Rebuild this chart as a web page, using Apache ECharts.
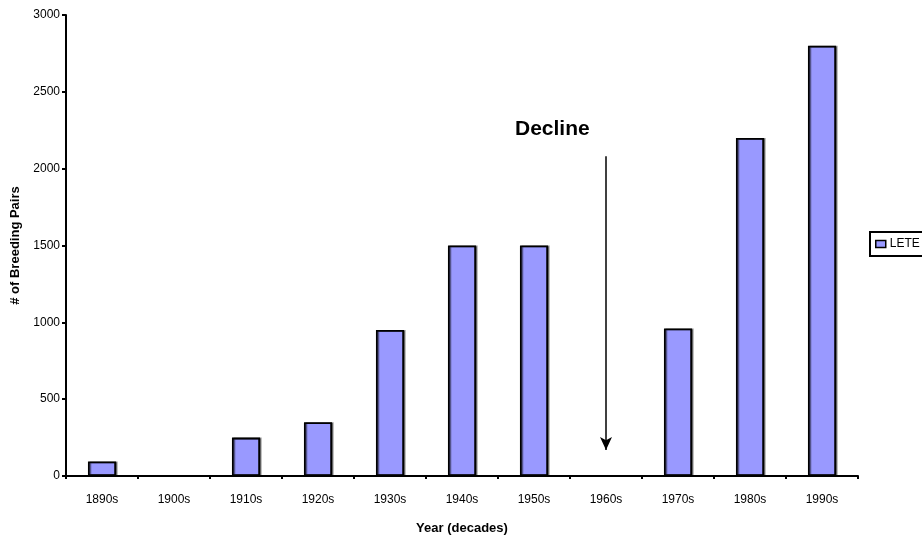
<!DOCTYPE html>
<html>
<head>
<meta charset="utf-8">
<script src="https://cdn.jsdelivr.net/npm/echarts@6/dist/echarts.min.js"></script>
<style>html,body{margin:0;padding:0;background:#fff;}#c{width:922px;height:540px;}</style>
</head>
<body>
<div id="c"></div>
<script>
const categories = ['1890s','1900s','1910s','1920s','1930s','1940s','1950s','1960s','1970s','1980s','1990s'];
const pairs = [95, 0, 250, 350, 950, 1500, 1500, 0, 960, 2200, 2800];
const yTicks = [0, 500, 1000, 1500, 2000, 2500, 3000];
const seriesName = 'LETE';
const annotationText = 'Decline';
const arrowCategory = '1960s';
const arrowFrom = 2080;
const arrowTo = 170;

const FONT = 'Arial, "Liberation Sans", sans-serif';
const chart = echarts.init(document.getElementById('c'), null, {renderer: 'canvas'});
chart.setOption({
  animation: false,
  backgroundColor: '#fff',
  grid: {left: 66, right: 64, top: 15, bottom: 58, containLabel: false},
  legend: {
    data: [seriesName],
    left: 870, top: 232,
    orient: 'vertical',
    padding: [6, 30, 6, 5],
    borderColor: '#000', borderWidth: 2,
    icon: 'rect', itemWidth: 10, itemHeight: 7, itemGap: 4,
    itemStyle: {color: '#9999FF', borderColor: '#000', borderWidth: 1.5},
    textStyle: {fontFamily: FONT, fontSize: 12, color: '#000', padding: [0,0,0,-1]}
  },
  xAxis: {
    type: 'category',
    data: categories,
    boundaryGap: true,
    name: 'Year (decades)',
    nameLocation: 'middle',
    nameGap: 46,
    nameTextStyle: {fontFamily: FONT, fontSize: 13, fontWeight: 'bold', color: '#000'},
    axisLine: {lineStyle: {color: '#000', width: 2}},
    axisTick: {show: true, length: 3, alignWithLabel: false, lineStyle: {color: '#000', width: 2}},
    axisLabel: {fontFamily: FONT, fontSize: 12, color: '#000', margin: 18, interval: 0},
    splitLine: {show: false}
  },
  yAxis: {
    type: 'value',
    min: yTicks[0], max: yTicks[yTicks.length - 1], interval: yTicks[1] - yTicks[0],
    name: '# of Breeding Pairs',
    nameLocation: 'middle',
    nameGap: 44,
    nameRotate: 90,
    nameTextStyle: {fontFamily: FONT, fontSize: 13, fontWeight: 'bold', color: '#000'},
    axisLine: {show: true, lineStyle: {color: '#000', width: 2}},
    axisTick: {show: true, length: 4, lineStyle: {color: '#000', width: 2}},
    axisLabel: {fontFamily: FONT, fontSize: 12, color: '#000', margin: 6, formatter: function (v) { return String(v); }},
    splitLine: {show: false}
  },
  graphic: [{
    type: 'text',
    left: 515, top: 119,
    style: {text: annotationText, font: 'bold 21px ' + FONT, fill: '#000'}
  }],
  series: [{
    name: seriesName,
    type: 'bar',
    data: pairs,
    barWidth: '39%',
    itemStyle: {
      color: '#9999FF', borderColor: '#000', borderWidth: 1.8,
      shadowColor: 'rgba(0,0,0,0.45)', shadowOffsetX: 1.5, shadowOffsetY: 0, shadowBlur: 0
    },
    markLine: {
      silent: true,
      symbol: ['none', 'arrow'],
      symbolSize: [9, 13],
      label: {show: false},
      lineStyle: {color: '#000', width: 1.5, type: 'solid'},
      data: [[{coord: [arrowCategory, arrowFrom]}, {coord: [arrowCategory, arrowTo]}]]
    }
  }]
});
</script>
</body>
</html>
